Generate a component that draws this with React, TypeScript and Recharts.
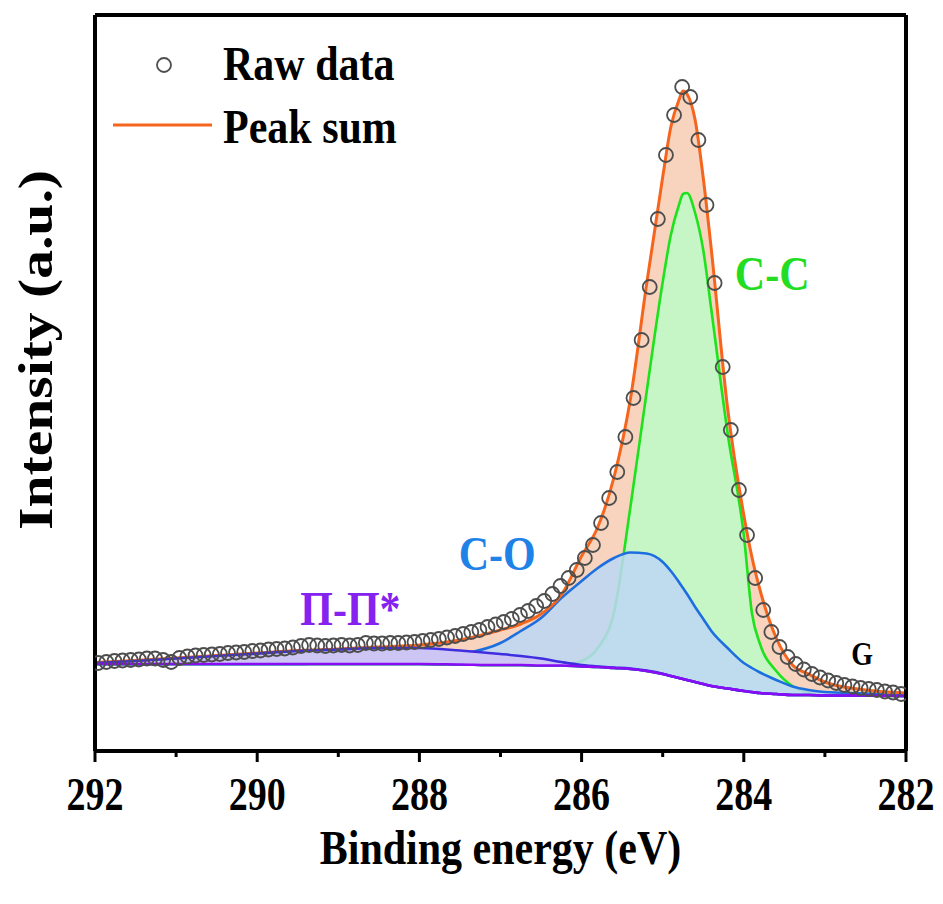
import React from 'react';
import { ComposedChart, Area, Line, Scatter, XAxis, YAxis, ReferenceDot, Legend } from 'recharts';

// fitted curves, shared energy grid (eV)
const energy = [
  292, 291.5, 291, 290.5, 290, 289.5, 289, 288.5, 288, 287.5, 287, 286.75, 286.5, 286.25,
  286, 285.8, 285.6, 285.4, 285.2, 285, 284.9, 284.8, 284.75, 284.7, 284.6, 284.5, 284.4,
  284.2, 284, 283.9, 283.8, 283.6, 283.4, 283.2, 283, 282.5, 282,
];
const background = [
  87, 87, 87, 87, 87, 87, 87, 87, 87, 86.5, 86, 86, 85.5, 85.5,
  84.5, 84, 83, 82, 80, 77, 75, 73, 72, 71, 69, 67, 65,
  62.5, 60, 59, 58, 57, 56, 56, 55.5, 55.5, 55,
];
const piPeak = [
  88, 90, 92.5, 95, 97.5, 100, 101.5, 103, 103, 100.5, 97, 95, 92.5, 89,
  86, 84.5, 83.5, 82.5, 80.5, 77.3, 75, 73, 72, 71, 69, 67, 65,
  62.5, 60, 59, 58, 57, 56, 56, 55.5, 55.5, 55,
];
const coPeak = [
  87, 87, 87, 87, 87, 87, 88, 89.5, 92, 96.5, 108, 120, 133, 153,
  170, 183, 193, 198.5, 197.5, 189, 180, 169, 163, 157, 144, 132, 120,
  103, 88, 83, 78.5, 71, 64.5, 61, 59, 57.5, 55.5,
];
const ccPeak = [
  87, 87, 87, 87, 87, 87, 87, 87, 87, 86.5, 86, 86, 85.5, 85.5,
  90, 103, 139, 243, 358, 469, 516, 546, 557, 558, 538, 501, 441,
  318, 216, 138, 107, 80, 65, 58, 55.5, 55.5, 55,
];
const peakSum = [
  88.5, 90.5, 93, 95.5, 98, 100.5, 102, 104, 106, 111, 121, 127, 137, 156,
  195, 224, 274, 351, 466, 574, 624, 651, 660, 657, 631, 573, 501,
  343, 236, 194, 161, 113, 86, 77, 69, 61, 58,
];

// measured spectrum
const rawEnergy = [
  291.96, 291.86, 291.76, 291.66, 291.56, 291.46, 291.36, 291.26, 291.16, 291.06,
  290.96, 290.86, 290.76, 290.66, 290.56, 290.46, 290.36, 290.26, 290.16, 290.06,
  289.96, 289.86, 289.76, 289.66, 289.56, 289.46, 289.36, 289.26, 289.16, 289.06,
  288.96, 288.86, 288.76, 288.66, 288.56, 288.46, 288.36, 288.26, 288.16, 288.06,
  287.96, 287.86, 287.76, 287.66, 287.56, 287.46, 287.36, 287.26, 287.16, 287.06,
  286.96, 286.86, 286.76, 286.66, 286.56, 286.46, 286.36, 286.26, 286.16, 286.06,
  285.96, 285.86, 285.76, 285.66, 285.56, 285.46, 285.36, 285.26, 285.16, 285.06,
  284.96, 284.86, 284.76, 284.66, 284.56, 284.46, 284.36, 284.26, 284.16, 284.06,
  283.96, 283.86, 283.76, 283.66, 283.56, 283.46, 283.36, 283.26, 283.16, 283.06,
  282.96, 282.86, 282.76, 282.66, 282.56, 282.46, 282.36, 282.26, 282.16, 282.06,
];
const rawIntensity = [
  88, 89, 90, 90.5, 91, 91.5, 92.5, 92.5, 91, 89,
  93, 94.5, 95.5, 96, 96.5, 97, 98, 98.5, 99, 100,
  100.5, 101.5, 102, 102.5, 103.5, 105, 106, 105.5, 105, 105.5,
  106, 105.5, 106, 108, 107.5, 107.5, 108, 108, 108.5, 109,
  110, 111, 112, 113.5, 115, 117, 119, 121, 124, 126.5,
  129, 132, 136, 140, 145, 150, 157, 165, 173, 181,
  193, 206, 228, 253, 279, 314, 353, 411, 464, 532,
  596, 636, 664, 654, 611, 546, 468, 384, 321, 261,
  216, 173, 141, 119, 104, 94, 87, 81.5, 77, 73.5,
  70.5, 68, 66, 64.5, 63, 62, 61, 59.5, 58.5, 57,
];

const xTicks = [292, 291, 290, 289, 288, 287, 286, 285, 284, 283, 282];
const majorTicks = [292, 290, 288, 286, 284, 282];

const curveData = energy.map((e, i) => ({
  e,
  bg: background[i],
  pi: piPeak[i],
  sum: peakSum[i],
  sumBand: [background[i], peakSum[i]],
  ccBand: [background[i], ccPeak[i]],
  coBand: [background[i], coPeak[i]],
  piBand: [background[i], piPeak[i]],
}));
const rawData = rawEnergy.map((e, i) => ({ e, raw: rawIntensity[i] }));

const FONT = "'Liberation Serif', 'Times New Roman', serif";
const SY = 1.18;
const frame = { stroke: '#000', strokeWidth: 4 };

const EnergyTick = (props: any) => {
  const { x, y, payload } = props;
  const major = majorTicks.includes(payload.value);
  return (
    <g>
      <line x1={x} x2={x} y1={y} y2={y + (major ? 11 : 6)} stroke="#000" strokeWidth={3} />
      {major && (
        <text
          transform={`translate(${x},${y + 59}) scale(1,1.22)`}
          textAnchor="middle"
          fontFamily={FONT}
          fontWeight={700}
          fontSize={38}
          fill="#000"
        >
          {payload.value}
        </text>
      )}
    </g>
  );
};

const XTitle = (props: any) => {
  const { x, y, width } = props.viewBox;
  return (
    <text
      transform={`translate(${x + width / 2},${y + 113}) scale(1,${SY})`}
      textAnchor="middle"
      fontFamily={FONT}
      fontWeight={700}
      fontSize={42}
      fill="#000"
    >
      Binding energy (eV)
    </text>
  );
};

const YTitle = (props: any) => {
  const { x, y, height } = props.viewBox;
  return (
    <text
      transform={`translate(${x - 42},${y + height / 2 - 33}) rotate(-90) scale(1.2,1)`}
      textAnchor="middle"
      fontFamily={FONT}
      fontWeight={700}
      fontSize={48}
      fill="#000"
    >
      Intensity (a.u.)
    </text>
  );
};

const note = (text: string, color: string, size: number) => (props: any) => {
  const { x, y } = props.viewBox;
  return (
    <text
      transform={`translate(${x},${y}) scale(1,${SY})`}
      textAnchor="middle"
      fontFamily={FONT}
      fontWeight={700}
      fontSize={size}
      fill={color}
    >
      {text}
    </text>
  );
};

const LegendBox = () => (
  <svg width={320} height={170} style={{ display: 'block' }}>
    <circle cx={64} cy={65} r={7} fill="none" stroke="#4d4d4d" strokeWidth={1.8} />
    <line x1={13} x2={112} y1={125} y2={125} stroke="#f5651d" strokeWidth={3} />
    <text transform={`translate(123,80) scale(1,${SY})`} fontFamily={FONT} fontWeight={700} fontSize={42} fill="#000">
      Raw data
    </text>
    <text transform={`translate(123,143) scale(1,${SY})`} fontFamily={FONT} fontWeight={700} fontSize={42} fill="#000">
      Peak sum
    </text>
  </svg>
);

const RawDot = (props: any) => (
  <circle cx={props.cx} cy={props.cy} r={7} fill="none" stroke="#4d4d4d" strokeWidth={1.8} />
);

export default function App() {
  return (
    <div style={{ position: 'absolute', left: 0, top: 0, background: '#fff' }}>
      <ComposedChart width={943} height={904} margin={{ top: 14, right: 36, bottom: 0, left: 94 }}>
        <XAxis
          dataKey="e"
          type="number"
          domain={[282, 292]}
          reversed
          allowDataOverflow
          ticks={xTicks}
          interval={0}
          height={153}
          tickSize={0}
          tickMargin={0}
          tickLine={false}
          axisLine={frame}
          tick={<EnergyTick />}
          label={XTitle}
        />
        <XAxis
          xAxisId="top"
          orientation="top"
          dataKey="e"
          type="number"
          domain={[282, 292]}
          reversed
          height={1}
          tick={false}
          tickLine={false}
          axisLine={frame}
        />
        <YAxis
          type="number"
          domain={[0, 736]}
          allowDataOverflow
          width={1}
          tick={false}
          tickLine={false}
          axisLine={frame}
          label={YTitle}
        />
        <YAxis
          yAxisId="right"
          orientation="right"
          type="number"
          domain={[0, 736]}
          width={1}
          tick={false}
          tickLine={false}
          axisLine={frame}
        />

        <Area data={curveData} dataKey="sumBand" type="monotone" fill="#f8d4be" fillOpacity={1} stroke="none" isAnimationActive={false} />
        <Area data={curveData} dataKey="ccBand" type="monotone" fill="#c6f6c6" fillOpacity={1} stroke="#1de21d" strokeWidth={2.6} isAnimationActive={false} />
        <Area data={curveData} dataKey="coBand" type="monotone" fill="#bcd7f4" fillOpacity={0.85} stroke="#1d6fe0" strokeWidth={2.6} isAnimationActive={false} />
        <Area data={curveData} dataKey="piBand" type="monotone" fill="#cdc5f3" fillOpacity={1} stroke="none" isAnimationActive={false} />
        <Line data={curveData} dataKey="sum" type="monotone" stroke="#f5651d" strokeWidth={3} dot={false} isAnimationActive={false} />
        <Line data={curveData} dataKey="pi" type="monotone" stroke="#3f2ee0" strokeWidth={2.6} dot={false} isAnimationActive={false} />
        <Line data={curveData} dataKey="bg" type="monotone" stroke="#8a0cf5" strokeWidth={2.6} dot={false} isAnimationActive={false} />
        <Scatter data={rawData} dataKey="raw" shape={RawDot} isAnimationActive={false} />

        <ReferenceDot x={283.65} y={461} r={0} fill="none" stroke="none" label={note('C-C', '#22dd22', 42)} />
        <ReferenceDot x={287.04} y={181} r={0} fill="none" stroke="none" label={note('C-O', '#1e82e6', 42)} />
        <ReferenceDot x={288.85} y={126} r={0} fill="none" stroke="none" label={note('Π-Π*', '#8622f0', 42)} />
        <ReferenceDot x={282.54} y={86} r={0} fill="none" stroke="none" label={note('G', '#000', 28)} />

        <Legend
          layout="vertical"
          align="center"
          verticalAlign="middle"
          wrapperStyle={{ left: 100, top: 0, width: 320, height: 170 }}
          content={LegendBox}
        />
      </ComposedChart>
    </div>
  );
}
